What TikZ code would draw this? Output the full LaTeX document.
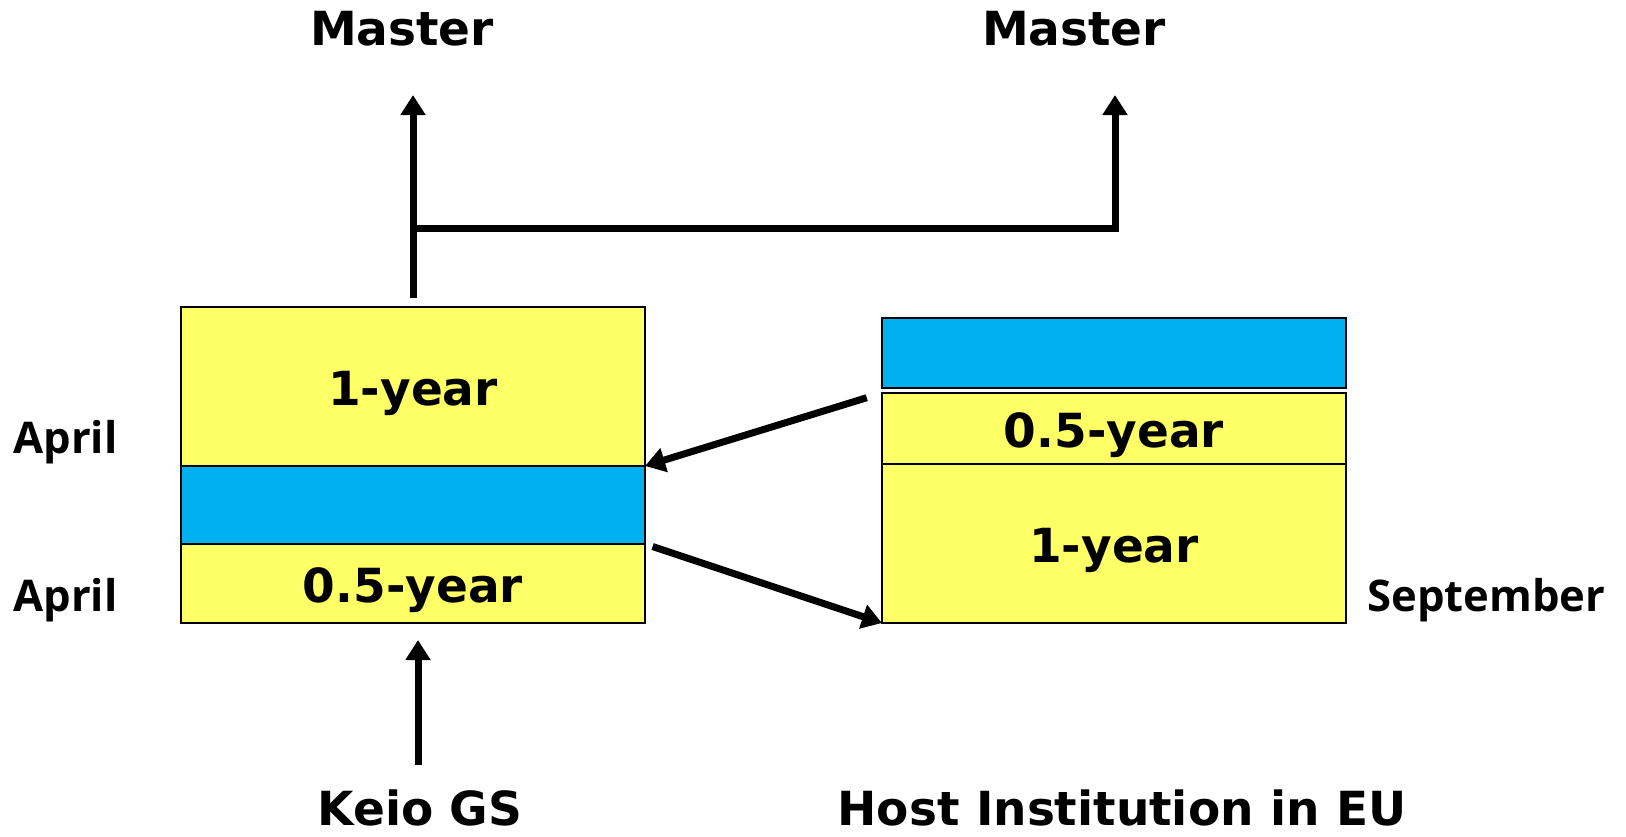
\documentclass[tikz,border=0pt]{standalone}
\usepackage{fontspec}
\setmainfont{DejaVu Sans}
\newfontfamily\sidefont{Open Sans}
\usetikzlibrary{positioning}
\usetikzlibrary{arrows.meta}
\definecolor{yr}{HTML}{FFFF66}
\definecolor{gp}{HTML}{00B0F0}
\tikzset{yrbox/.style={draw,line width=1pt,fill=yr,minimum width=232pt,outer sep=0pt,inner sep=0pt,text height=24.3pt,text depth=5.5pt,font=\fontsize{23.5}{28}\selectfont\bfseries}}
\tikzset{gapbox/.style={draw,line width=1pt,fill=gp,minimum width=232pt,outer sep=0pt}}
\tikzset{lbl/.style={inner sep=0pt,font=\fontsize{23.5}{28}\selectfont\bfseries}}
\tikzset{side/.style={inner sep=0pt,anchor=west,font=\fontsize{21.8}{26}\selectfont\sidefont\bfseries}}
\tikzset{arr/.style={line width=3.5pt,-{Triangle[length=10pt,width=12pt]}}}

\begin{document}
\begin{tikzpicture}[x=0.5pt,y=-0.5pt]
\useasboundingbox (0,0) rectangle (1626,836);
% Keio side
\node[yrbox,minimum height=79.5pt] (keio1yr) at (413,386.5) {1-year};
\node[gapbox,minimum height=39pt] (keiogap) at (413,505) {};
\node[yrbox,minimum height=39.5pt] (keiohalf) at (413,583.5) {0.5-year};
% host side
\node[gapbox,minimum height=35pt] (hostgap) at (1114,353) {};
\node[yrbox,minimum height=35.5pt] (hosthalf) at (1114,428.5) {0.5-year};
\node[yrbox,minimum height=79.5pt] (host1yr) at (1114,543.5) {1-year};

\node[lbl] (masterL) at (402,29) {Master};
\node[lbl] (masterR) at (1074,29) {Master};
\node[lbl] (keio) at (420,808) {Keio GS};
\node[lbl] (host) at (1122,808) {Host Institution in EU};
\node[side] (aprilA) at (13,442) {April};
\node[side] (aprilB) at (13,600) {April};
\node[side] (sept) at (1367,600) {September};

\coordinate (tipL) at (413,95);
\coordinate (tipR) at (1115,95);
\coordinate (fork) at (413,228);

\draw[arr,shorten <=4.5pt] (keio1yr.north) -- (tipL);
\draw[arr] (fork) -| (tipR);
\draw[arr,shorten <=8pt] (hosthalf.north west) -- (keio1yr.south east);
\draw[arr,shorten <=4pt] (keiogap.south east) -- (host1yr.south west);
\draw[arr,shorten <=12pt,shorten >=8.5pt] ([xshift=-1pt]keio.north) -- ([xshift=-1pt]keio.north |- keiohalf.south);
\end{tikzpicture}
\end{document}
